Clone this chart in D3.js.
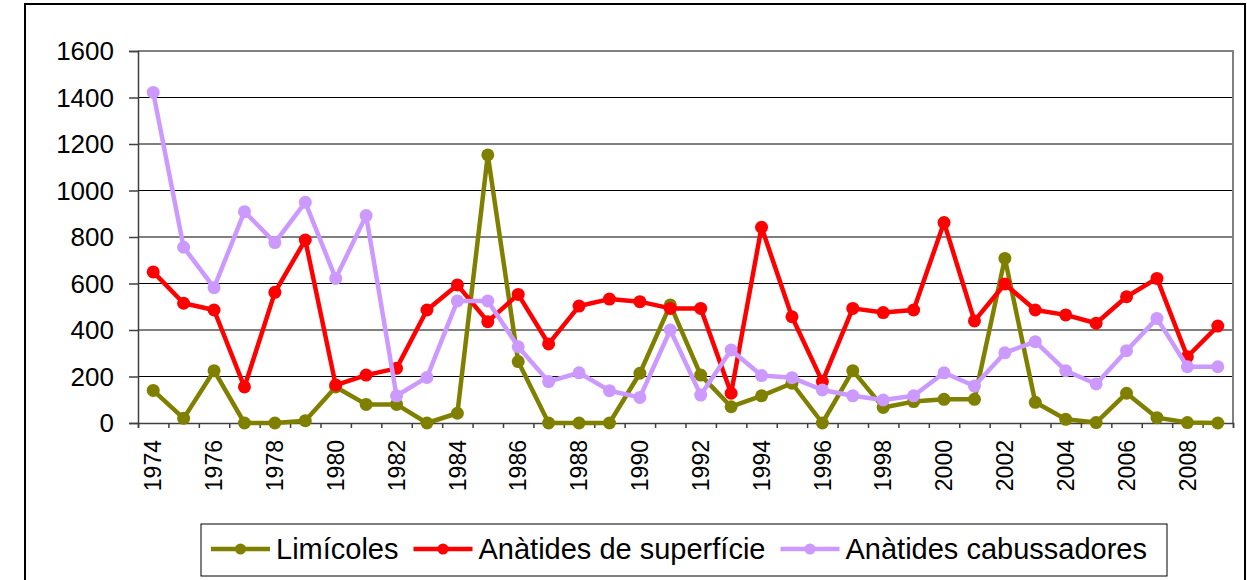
<!DOCTYPE html>
<html>
<head>
<meta charset="utf-8">
<script src="https://cdn.jsdelivr.net/npm/d3@7"></script>
<style>
  body { margin: 0; background: #fff; }
  svg { display: block; font-family: "Liberation Sans", Arial, sans-serif; }
</style>
</head>
<body>
<script>
// data
const years = d3.range(1974, 2010)
const limicoles = [140,20,225,0,0,10,155,80,80, 0,42,1153,264,0,0,0,214,508,206,70,117,171,0, 225,67,92,102,102,708,89,16,2,128,23,2,0]
const superficie = [650,515,486,155,562,787,163,206,235, 486,594,436,553,340,503,533,522,493,493,128,842,457,178, 493,475,486,862,439,598,486,465,429,543,622,285,417]
const cabussadors = [1422,756,582,909,776,949,622,892,117, 196,525,525,328,178,216,139,110,400,120,314,204,195,142, 117,99,117,216,159,302,350,225,168,311,450,242,242]
const yTicks = [0,200,400,600,800,1000,1200,1400,1600]
const seriesNames = ["Limícoles", "Anàtides de superfície", "Anàtides cabussadores"]
const seriesColors = ["#808000", "#ff0000", "#cc99ff"]

const series = [limicoles, superficie, cabussadors].map(function(vals, i){
  return {name: seriesNames[i], color: seriesColors[i], values: vals}
})

var width = 1247, height = 580
var plotLeft = 138, plotRight = 1233, plotTop = 51, plotBottom = 423

var svg = d3.select("body").append("svg")
    .attr("width", width).attr("height", height)

// outer frame
svg.append("rect")
    .attr("x", 25).attr("y", 4).attr("width", 1220).attr("height", 600)
    .attr("fill", "#fff").attr("stroke", "#000").attr("stroke-width", 2)

var x = d3.scaleBand().domain(years).range([plotLeft, plotRight]).padding(0)
var xb = d3.scaleLinear().domain([0, years.length]).range([plotLeft, plotRight])
var y = d3.scaleLinear().domain([0, 1600]).range([plotBottom, plotTop])

// gridlines
svg.append("g").selectAll("line").data(yTicks.slice(1, -1)).enter().append("line")
    .attr("x1", plotLeft).attr("x2", plotRight)
    .attr("y1", function(d){ return y(d) }).attr("y2", function(d){ return y(d) })
    .attr("stroke", "#000").attr("stroke-width", 1)

// plot area top/right border
svg.append("path")
    .attr("d", "M" + plotLeft + "," + plotTop + "H" + plotRight + "V" + plotBottom)
    .attr("fill", "none").attr("stroke", "#808080").attr("stroke-width", 2)

// y axis
var yAxis = d3.axisLeft(y).tickValues(yTicks).tickSize(9).tickPadding(15).tickFormat(d3.format("d"))
var gy = svg.append("g").attr("transform", "translate(" + plotLeft + ",0)").call(yAxis)
gy.select(".domain").attr("stroke", "#404040").attr("stroke-width", 1.5)
gy.selectAll(".tick line").attr("stroke", "#404040").attr("stroke-width", 1.5)
gy.selectAll("text").attr("font-size", 26).attr("fill", "#000")
    .attr("font-family", "Liberation Sans, Arial, sans-serif").attr("dy", "0.33em")

// x axis: ticks at category boundaries
var xAxis = d3.axisBottom(xb).tickValues(d3.range(0, years.length + 1)).tickSize(5).tickFormat("")
var gx = svg.append("g").attr("transform", "translate(0," + plotBottom + ")").call(xAxis)
gx.select(".domain").attr("stroke", "#404040").attr("stroke-width", 1.5)
gx.selectAll(".tick line").attr("stroke", "#404040").attr("stroke-width", 1.5)

// year labels, every other year
svg.append("g").selectAll("text").data(years.filter(function(d){ return d % 2 == 0 }))
  .enter().append("text")
    .attr("transform", function(d){ return "translate(" + (x(d) + x.bandwidth()/2) + ",440) rotate(-90)" })
    .attr("text-anchor", "end")
    .attr("dy", "0.36em")
    .attr("font-size", 23)
    .attr("fill", "#000")
    .text(function(d){ return d })

// lines and markers
var line = d3.line()
    .x(function(d, i){ return x(years[i]) + x.bandwidth()/2 })
    .y(function(d){ return y(d) })

series.forEach(function(s){
  var g = svg.append("g")
  g.append("path").datum(s.values)
      .attr("d", line)
      .attr("fill", "none").attr("stroke", s.color).attr("stroke-width", 4.5)
      .attr("stroke-linejoin", "round")
  g.selectAll("circle").data(s.values).enter().append("circle")
      .attr("cx", function(d, i){ return x(years[i]) + x.bandwidth()/2 })
      .attr("cy", function(d){ return y(d) })
      .attr("r", 6.5)
      .attr("fill", s.color)
})

// legend
var legend = svg.append("g")
legend.append("rect")
    .attr("x", 201).attr("y", 524).attr("width", 966).attr("height", 52)
    .attr("fill", "#fff").attr("stroke", "#000").attr("stroke-width", 1)

var lx = 211, ly = 549
series.forEach(function(s){
  legend.append("line")
      .attr("x1", lx).attr("x2", lx + 59).attr("y1", ly).attr("y2", ly)
      .attr("stroke", s.color).attr("stroke-width", 4.5)
  legend.append("circle")
      .attr("cx", lx + 29.5).attr("cy", ly).attr("r", 5.5).attr("fill", s.color)
  var t = legend.append("text")
      .attr("x", lx + 65).attr("y", ly).attr("dy", "0.35em")
      .attr("font-size", 29).attr("fill", "#000")
      .text(s.name)
  lx = lx + 65 + t.node().getComputedTextLength() + 15
})
</script>
</body>
</html>
